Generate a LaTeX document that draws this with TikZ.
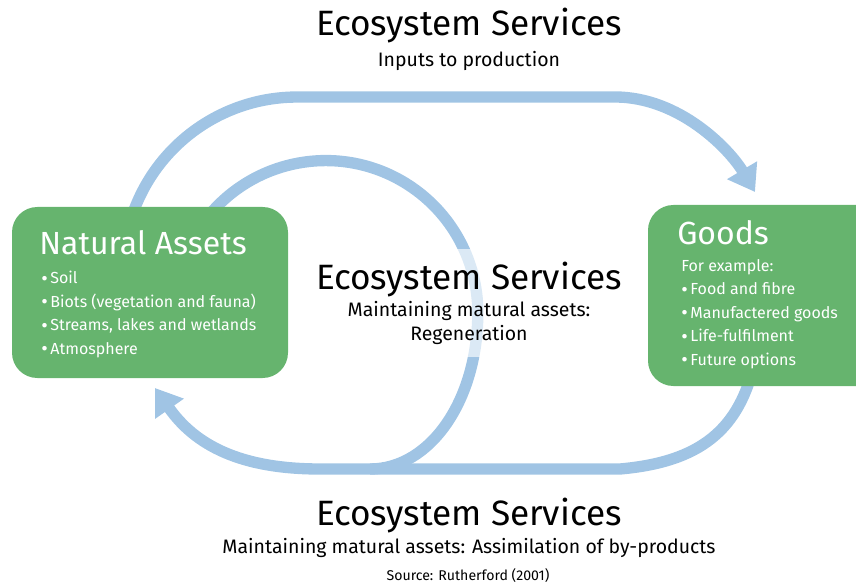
\documentclass[tikz,border=0pt]{standalone}
\usepackage{fontspec}
\setmainfont{Fira Sans}
\usepackage{tikz}
\usetikzlibrary{arrows.meta,backgrounds,positioning}
\definecolor{assetgreen}{RGB}{102,180,110}
\definecolor{flowblue}{RGB}{160,196,228}
\newcommand{\bul}{\raisebox{-1.2pt}{\fontsize{15}{17.6}\selectfont\textbullet}\,}

\begin{document}
\begin{tikzpicture}[
    x=0.75pt, y=0.75pt,
    font=\fontsize{14.6}{18}\selectfont,
    asset/.style={rectangle, rounded corners=19pt, fill=assetgreen, inner sep=0pt},
    boxtitle/.style={text=white, inner sep=0pt, font=\fontsize{24}{28}\selectfont},
    boxlist/.style={text=white, inner sep=0pt, align=left, font=\fontsize{12}{17.6}\selectfont},
    heading/.style={inner sep=0pt, font=\fontsize{26.4}{30}\selectfont},
    caption/.style={inner sep=0pt, font=\fontsize{14.6}{18}\selectfont},
    flow/.style={draw=flowblue, line width=8.5pt, -{Triangle[length=19pt, width=25pt]}},
    band/.style={draw=flowblue, line width=8.5pt}
  ]
  \useasboundingbox (0,0) rectangle (856,-584);
  \clip (0,0) rectangle (856,-584);

  % the two boxes
  \node[asset, minimum width=207pt, minimum height=128.25pt] (nat) at (150,-292.5) {};
  \node[asset, minimum width=181.5pt, minimum height=135.75pt] (goods) at (769,-295.5) {};

  \node[boxtitle, anchor=base west] (nattitle) at (39,-255) {Natural Assets};
  \node[boxlist, anchor=north west] (natlist) at (41,-271) {\bul Soil\\ \bul Biots (vegetation and fauna)\\ \bul Streams, lakes and wetlands\\ \bul Atmosphere};
  \node[boxtitle, anchor=base west] (goodstitle) at (677,-245) {Goods};
  \node[boxlist, anchor=north west] (goodslist) at (681,-259) {For example:\\ \bul Food and fibre\\ \bul Manufactered goods\\ \bul Life-fulfilment\\ \bul Future options};

  % texts
  \node[heading, anchor=base] (estop) at (469,-36) {Ecosystem Services};
  \node[caption, anchor=base] (inputs) at (469,-67) {Inputs to production};
  \node[align=center, fill=white, fill opacity=0.63, text opacity=1, inner xsep=3pt, inner ysep=9.75pt] (esmid) at (469,-303)
    {{\fontsize{26.4}{30}\selectfont Ecosystem Services}\\[2.25pt] Maintaining matural assets:\\ Regeneration};
  \node[heading, anchor=base] (esbot) at (469,-525) {Ecosystem Services};
  \node[caption, anchor=base] (assim) at (469,-553) {Maintaining matural assets: Assimilation of by-products};
  \node[anchor=base, inner sep=0pt, font=\fontsize{10.6}{12}\selectfont] (source) at (468,-580) {Source: Rutherford (2001)};

  % free ends of the flows
  \coordinate (outstart) at (129,-226);
  \coordinate (goodstip) at (755,-192);
  \coordinate (botstart) at (755,-360);
  \coordinate (nattip) at (155,-388);
  \coordinate (innstart) at (201.3,-225.4);

  \begin{scope}[on background layer]
    \draw[flow] (outstart) arc[start angle=165, end angle=90, radius=174] -- (615,-97)
      .. controls (680,-97) and (730,-150) .. (goodstip);
    \draw[flow] (botstart) .. controls (740,-430) and (700,-462) .. (620,-469) -- (320,-469)
      .. controls (240,-469) and (195,-445) .. (nattip);
    \draw[band] (innstart) arc[start angle=145, end angle=0, radius=152]
      .. controls +(0,-88) and +(60,0) .. (370,-469);
  \end{scope}
\end{tikzpicture}
\end{document}
